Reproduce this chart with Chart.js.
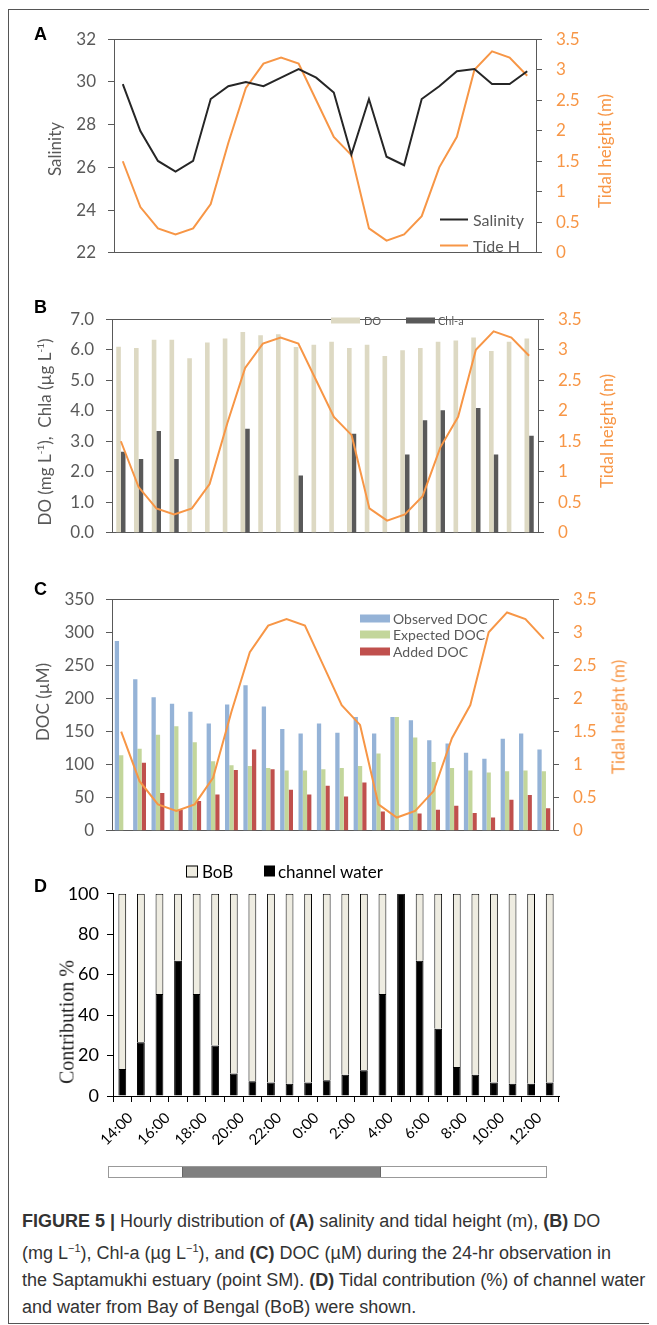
<!DOCTYPE html>
<html>
<head>
<meta charset="utf-8">
<script src="https://cdn.jsdelivr.net/npm/chart.js@4.4.0/dist/chart.umd.min.js"></script>
<style>
  body { margin: 0; background: #fff; width: 657px; height: 1325px; position: relative; overflow: hidden; font-family: Lato, sans-serif; }
  .frame { position: absolute; left: 8px; top: 9px; width: 640px; height: 1313px; border-left: 1px solid #555; border-top: 1px solid #555; border-bottom: 1px solid #555; }
  .panel { position: absolute; }
  .letter { position: absolute; font: bold 18px "Liberation Sans", Arial, sans-serif; color: #000; }
  .vt { position: absolute; white-space: nowrap; transform: translate(-50%, -50%) rotate(-90deg); font-size: 17px; color: #595959; }
  .vt sup { font-size: 10px; }
  .leg { position: absolute; display: flex; align-items: center; white-space: nowrap; }
  .leg span.sw { display: inline-block; }
  .daynight { position: absolute; left: 108px; top: 1166px; width: 437px; height: 10px; border: 1px solid #999; display: flex; }
  .caption { position: absolute; left: 22px; top: 1208px; font: 18px "Liberation Sans", Arial, sans-serif; line-height: 27px; color: #333; white-space: nowrap; }
  .caption sup { font-size: 11px; }
</style>
</head>
<body>
<div class="frame"></div>

<script>
// hourly observation labels
const hours = ["14:00", "15:00", "16:00", "17:00", "18:00", "19:00", "20:00", "21:00", "22:00", "23:00", "0:00", "1:00",
  "2:00", "3:00", "4:00", "5:00", "6:00", "7:00", "8:00", "9:00", "10:00", "11:00", "12:00", "13:00"];

// A
const salinity = [29.9, 27.7, 26.3, 25.8, 26.3, 29.2, 29.8, 30.0, 29.8, 30.2, 30.6, 30.2,
  29.5, 26.6, 29.2, 26.5, 26.1, 29.2, 29.8, 30.5, 30.6, 29.9, 29.9, 30.5];
const tide = [1.5, 0.75, 0.4, 0.3, 0.4, 0.8, 1.8, 2.7, 3.1, 3.2, 3.1, 2.5,
  1.9, 1.6, 0.4, 0.2, 0.3, 0.6, 1.4, 1.9, 3.0, 3.3, 3.2, 2.9];

// B
const doValues = [6.1, 6.06, 6.33, 6.33, 5.72, 6.24, 6.37, 6.58, 6.47, 6.51, 6.09, 6.16,
  6.26, 6.06, 6.16, 5.79, 5.98, 6.06, 6.26, 6.3, 6.4, 5.96, 6.26, 6.37];
const chla = [2.66, 2.42, 3.34, 2.42, null, null, null, 3.41, null, null, 1.88, null,
  null, 3.25, null, null, 2.57, 3.69, 4.02, null, 4.09, 2.57, null, 3.18];

// C
const observedDoc = [287, 229, 202, 192, 180, 162, 191, 220, 188, 154, 147, 162,
  148, 172, 147, 172, 167, 137, 132, 118, 109, 139, 147, 123];
const expectedDoc = [114, 124, 145, 158, 134, 105, 99, 98, 95, 91, 91, 93,
  95, 98, 117, 172, 141, 104, 95, 91, 88, 90, 91, 90];
const addedDoc = [null, 103, 57, 32, 45, 55, 92, 123, 93, 62, 55, 68,
  52, 73, 29, null, 26, 32, 38, 27, 20, 47, 54, 34];

// D
const channelWater = [13.4, 26.6, 50.5, 66.9, 50.5, 25, 11.1, 7.3, 6.7, 6.1, 6.7, 7.8,
  10.5, 12.7, 50.5, 100, 66.9, 33.3, 14.3, 10.5, 6.7, 6.1, 6.1, 6.7];
const bob = [86.6, 73.4, 49.5, 33.1, 49.5, 75, 88.9, 92.7, 93.3, 93.9, 93.3, 92.2,
  89.5, 87.3, 49.5, 0, 33.1, 66.7, 85.7, 89.5, 93.3, 93.9, 93.9, 93.3];

// day / night strip (hours): day, night, day
const dayNight = [4.2, 11.3, 9.5];

const ORANGE = "#f79646";
const AXIS = "#595959";
const TXT = "#595959";

Chart.defaults.font.family = "Lato, sans-serif";
Chart.defaults.animation = false;
Chart.defaults.plugins.legend.display = false;
Chart.defaults.plugins.tooltip.enabled = false;

function panel(left, top, w, h) {
  const div = document.createElement("div");
  div.className = "panel";
  div.style.cssText = "left:" + left + "px;top:" + top + "px;width:" + w + "px;height:" + h + "px";
  const cv = document.createElement("canvas");
  div.appendChild(cv);
  document.body.appendChild(div);
  return cv;
}

function html(cls, css, text) {
  const d = document.createElement("div");
  d.className = cls;
  d.style.cssText = css;
  d.innerHTML = text;
  document.body.appendChild(d);
  return d;
}

// line on top of plot area (A, B, C have a closed frame)
const topLine = {
  id: "topLine",
  afterDraw(chart) {
    const a = chart.chartArea, c = chart.ctx;
    c.save();
    c.strokeStyle = AXIS;
    c.lineWidth = 1;
    c.beginPath();
    c.moveTo(a.left, Math.round(a.top) + 0.5);
    c.lineTo(a.right, Math.round(a.top) + 0.5);
    c.stroke();
    c.restore();
  }
};

function leftAxis(min, max, step, width, fmt) {
  return {
    position: "left", min: min, max: max,
    ticks: { stepSize: step, color: TXT, font: { size: 17 }, padding: 12, callback: fmt },
    grid: { drawOnChartArea: false, tickLength: 6, color: AXIS },
    border: { color: AXIS },
    afterFit: function (s) { s.width = width; }
  };
}

function tideAxis(width) {
  return {
    position: "right", min: 0, max: 3.5,
    ticks: { stepSize: 0.5, color: ORANGE, font: { size: 17 }, padding: 14,
      callback: function (v) { return String(v); } },
    grid: { drawOnChartArea: false, tickLength: 6, color: AXIS },
    border: { color: AXIS },
    afterFit: function (s) { s.width = width; }
  };
}

function flatX(height) {
  return {
    offset: true,
    grid: { display: false },
    ticks: { display: false },
    border: { color: AXIS },
    afterFit: function (s) { s.height = height; }
  };
}

function tideLine() {
  return { type: "line", label: "Tide H", data: tide, borderColor: ORANGE, borderWidth: 2,
    pointRadius: 0, yAxisID: "y2", order: 0 };
}

// ---------- A ----------
new Chart(panel(10, 15, 640, 262), {
  type: "line",
  data: {
    labels: hours,
    datasets: [
      { label: "Salinity", data: salinity, borderColor: "#262626", borderWidth: 2, pointRadius: 0, yAxisID: "y" },
      tideLine()
    ]
  },
  options: {
    responsive: true, maintainAspectRatio: false,
    layout: { padding: { top: 18, left: 0, right: 0, bottom: 0 } },
    scales: { x: flatX(14), y: leftAxis(22, 32, 2, 104), y2: tideAxis(114) }
  },
  plugins: [topLine]
});

// ---------- B ----------
new Chart(panel(10, 295, 640, 262), {
  type: "bar",
  data: {
    labels: hours,
    datasets: [
      { label: "DO", data: doValues, backgroundColor: "#ddd9c3", yAxisID: "y", order: 1,
        categoryPercentage: 0.52, barPercentage: 1 },
      { label: "Chl-a", data: chla, backgroundColor: "#595959", yAxisID: "y", order: 1,
        categoryPercentage: 0.52, barPercentage: 1 },
      tideLine()
    ]
  },
  options: {
    responsive: true, maintainAspectRatio: false,
    layout: { padding: { top: 17, left: 0, right: 0, bottom: 0 } },
    scales: {
      x: flatX(6),
      y: leftAxis(0, 7, 1, 102, function (v) { return v.toFixed(1); }),
      y2: tideAxis(112)
    }
  },
  plugins: [topLine]
});

// ---------- C ----------
new Chart(panel(10, 575, 640, 280), {
  type: "bar",
  data: {
    labels: hours,
    datasets: [
      { label: "Observed DOC", data: observedDoc, backgroundColor: "#95b3d7", order: 1,
        categoryPercentage: 0.7, barPercentage: 1 },
      { label: "Expected DOC", data: expectedDoc, backgroundColor: "#c3d69b", order: 1,
        categoryPercentage: 0.7, barPercentage: 1 },
      { label: "Added DOC", data: addedDoc, backgroundColor: "#c0504d", order: 1,
        categoryPercentage: 0.7, barPercentage: 1 },
      tideLine()
    ]
  },
  options: {
    responsive: true, maintainAspectRatio: false,
    layout: { padding: { top: 13, left: 0, right: 0, bottom: 0 } },
    scales: { x: flatX(9), y: leftAxis(0, 350, 50, 102), y2: tideAxis(97) }
  },
  plugins: [topLine]
});

// ---------- D ----------
new Chart(panel(10, 875, 640, 270), {
  type: "bar",
  data: {
    labels: hours,
    datasets: [
      { label: "channel water", data: channelWater, backgroundColor: "#000", borderColor: "#000", borderWidth: 1,
        barPercentage: 0.42, categoryPercentage: 1 },
      { label: "BoB", data: bob, backgroundColor: "#eeece1", borderColor: "#000", borderWidth: 1,
        barPercentage: 0.42, categoryPercentage: 1 }
    ]
  },
  options: {
    responsive: true, maintainAspectRatio: false,
    layout: { padding: { top: 12, left: 0, right: 91, bottom: 0 } },
    scales: {
      x: {
        stacked: true,
        grid: { drawOnChartArea: false, tickLength: 6, color: "#000" },
        border: { color: "#000" },
        ticks: {
          autoSkip: false, minRotation: 45, maxRotation: 45, color: "#000", font: { size: 15 }, padding: 7,
          labelOffset: 8,
          callback: function (v, i) { return i % 2 === 0 ? hours[i] : ""; }
        },
        afterFit: function (s) { s.height = 49; }
      },
      y: {
        stacked: true, min: 0, max: 100,
        ticks: { stepSize: 20, color: "#000", font: { size: 18 }, padding: 8 },
        grid: { drawOnChartArea: false, tickLength: 6, color: "#000" },
        border: { color: "#000" },
        afterFit: function (s) { s.width = 103; }
      }
    }
  }
});

// ---------- panel letters, axis titles, legends ----------
html("letter", "left:34px;top:24px", "A");
html("letter", "left:34px;top:297px", "B");
html("letter", "left:34px;top:579px", "C");
html("letter", "left:34px;top:876px", "D");

html("vt", "left:54px;top:149px", "Salinity");
html("vt", "left:604px;top:151px;color:" + ORANGE, "Tidal height (m)");
html("vt", "left:44px;top:432px", "DO (mg L<sup>-1</sup>),&nbsp; Chla (µg L<sup>-1</sup>)");
html("vt", "left:606px;top:431px;color:" + ORANGE, "Tidal height (m)");
html("vt", "left:42px;top:702px", "DOC (µM)");
html("vt", "left:618px;top:717px;color:" + ORANGE, "Tidal height (m)");
html("vt", "left:67px;top:1022px;color:#222;font:20px 'Liberation Serif', serif", "Contribution %");

function legendItem(x, y, sw, label, font, color) {
  const d = html("leg", "left:" + x + "px;top:" + y + "px;transform:translateY(-50%);font:" + font + ";color:" + color,
    "<span class='sw' style='" + sw + "'></span><span>" + label + "</span>");
  return d;
}

// A legend
legendItem(440, 219, "width:28px;height:2px;background:#262626;margin-right:5px", "Salinity", "16px Lato", TXT);
legendItem(440, 245, "width:28px;height:2px;background:" + ORANGE + ";margin-right:5px", "Tide H", "16px Lato", TXT);

// B legend
legendItem(331, 320, "width:29px;height:6px;background:#ddd9c3;margin-right:4px", "DO", "11px Lato", TXT);
legendItem(406, 320, "width:29px;height:6px;background:#595959;margin-right:3px", "Chl-a", "11px Lato", TXT);

// C legend
legendItem(360, 618, "width:30px;height:8px;background:#95b3d7;margin-right:3px", "Observed DOC", "14px Lato", TXT);
legendItem(360, 634, "width:30px;height:8px;background:#c3d69b;margin-right:3px", "Expected DOC", "14px Lato", TXT);
legendItem(360, 651, "width:30px;height:8px;background:#c0504d;margin-right:3px", "Added DOC", "14px Lato", TXT);

// D legend
legendItem(186, 871, "width:10px;height:10px;background:#eeece1;border:1px solid #000;margin-right:4px", "BoB", "17px Lato", "#000");
legendItem(264, 871, "width:11px;height:11px;background:#000;margin-right:3px", "channel water", "17px Lato", "#000");

// day / night strip
const strip = html("daynight", "", "");
const stripColors = ["#fff", "#808080", "#fff"];
dayNight.forEach(function (h, i) {
  const seg = document.createElement("div");
  seg.style.cssText = "flex:" + h + " 0 0;background:" + stripColors[i] + (i === 1 ? ";border-left:1px solid #666;border-right:1px solid #666" : "");
  strip.appendChild(seg);
});

// caption
html("caption", "",
  "<b>FIGURE 5 |</b> Hourly distribution of <b>(A)</b> salinity and tidal height (m), <b>(B)</b> DO<br>" +
  "(mg L<sup>−1</sup>), Chl-a (µg L<sup>−1</sup>), and <b>(C)</b> DOC (µM) during the 24-hr observation in<br>" +
  "the Saptamukhi estuary (point SM). <b>(D)</b> Tidal contribution (%) of channel water<br>" +
  "and water from Bay of Bengal (BoB) were shown.");
</script>
</body>
</html>
